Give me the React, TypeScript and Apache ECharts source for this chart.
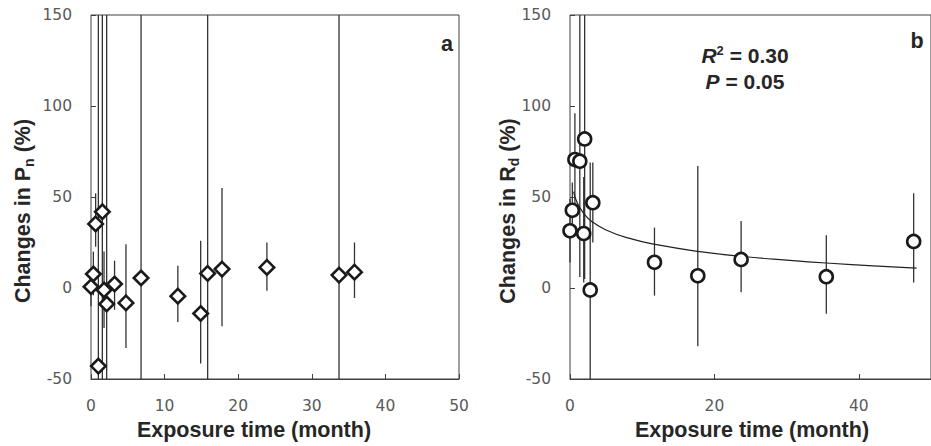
import React, { useEffect, useRef } from 'react';
import * as echarts from 'echarts';

// Panel a: changes in Pn (%)
const pnX = [0, 0.32, 0.63, 1.0, 1.54, 1.77, 2.13, 3.2, 4.75, 6.8, 11.8, 14.9, 15.85, 17.8, 23.9, 33.7, 35.8];
const pnY = [0.7, 7.7, 35.2, -42.9, 41.9, -1.1, -8.8, 2.2, -8.2, 5.5, -4.5, -14, 8, 10.4, 11.3, 7.1, 8.7];
const pnLow = [-10, -4, 22.7, -250, -250, -22, -250, -12, -33, -250, -18.7, -41.5, -250, -21, -1.5, -250, -5.5];
const pnHigh = [10, 20, 52, 250, 250, 20, 250, 15, 24, 250, 12.2, 26, 250, 55, 25, 250, 25];

// Panel b: changes in Rd (%)
const rdX = [0, 0.32, 0.68, 1.36, 1.9, 2.03, 2.8, 3.16, 11.7, 17.7, 23.7, 35.5, 47.6];
const rdY = [31.4, 42.7, 70.6, 69.7, 29.9, 81.9, -1.1, 46.9, 14.1, 6.7, 15.7, 6.2, 25.6];
const rdLow = [14, 28, 45, 6, 3, 5, -60, 25, -4.2, -32, -2.4, -14.2, 3];
const rdHigh = [49, 58, 96, 250, 61, 250, 69, 69, 33.2, 67, 36.8, 29, 52];

// Fitted curve in panel b
const fitX = [0.5, 1, 2, 3, 5, 8, 12, 18, 24, 30, 36, 42, 48];
const fitY = [53, 46.8, 40.4, 36.6, 31.9, 27.5, 23.8, 20.0, 17.3, 15.3, 13.6, 12.2, 10.9];

// Axis ticks
const yMin = -50;
const yMax = 150;
const yStep = 50;
const xMax = 50;
const xStepA = 10;
const xStepB = 20;

const TICK_FONT = 'DejaVu Sans';
const TITLE_FONT = 'Liberation Sans';
const LABEL_COLOR = '#595959';
const LINE_COLOR = '#404040';
const TITLE_COLOR = '#262626';

function errRender(params: any, api: any) {
  const x = api.value(0);
  const lo = api.value(1);
  const hi = api.value(2);
  const p1 = api.coord([x, lo]);
  const p2 = api.coord([x, hi]);
  const cs = params.coordSys;
  const top = cs.y;
  const bot = cs.y + cs.height;
  const c = (v: number) => Math.min(Math.max(v, top), bot);
  return {
    type: 'line',
    shape: { x1: p1[0], y1: c(p1[1]), x2: p2[0], y2: c(p2[1]) },
    style: { stroke: '#333333', lineWidth: 1.3 },
  };
}

export default function App() {
  const ref = useRef<HTMLDivElement>(null);
  useEffect(() => {
    if (!ref.current) return;
    const chart = echarts.init(ref.current, undefined, { renderer: 'svg' });

    const tickLabel = { fontFamily: TICK_FONT, fontSize: 15.5, color: LABEL_COLOR };
    const mkXLabelAxis = (gi: number, step: number) => ({
      type: 'value', gridIndex: gi, min: 0, max: xMax, interval: step, position: 'bottom',
      axisLine: { show: false }, axisTick: { show: false }, splitLine: { show: false },
      axisLabel: { ...tickLabel, margin: 19, showMaxLabel: gi === 0 },
    });
    const mkXZeroAxis = (gi: number, step: number) => ({
      type: 'value', gridIndex: gi, min: 0, max: xMax, interval: step, position: 'bottom',
      axisLine: { show: true, onZero: true, lineStyle: { color: LINE_COLOR, width: 1 } },
      axisTick: { show: true, inside: true, length: 5, lineStyle: { color: LINE_COLOR } },
      axisLabel: { show: false }, splitLine: { show: false },
    });
    const mkY = (gi: number) => ({
      type: 'value', gridIndex: gi, min: yMin, max: yMax, interval: yStep,
      axisLine: { show: false },
      axisTick: { show: true, inside: true, length: 5, lineStyle: { color: LINE_COLOR } },
      axisLabel: { ...tickLabel, margin: 19 },
      splitLine: { show: false },
    });

    const title = (text: string, x: number, y: number) => ({
      type: 'text', x, y,
      style: {
        text, fontFamily: TITLE_FONT, fontWeight: 'bold', fontSize: 21.5, fill: TITLE_COLOR,
        align: 'center', verticalAlign: 'middle',
      },
    });
    const yTitle = (sym: string, sub: string, x: number, y: number) => ({
      type: 'text', x, y, rotation: Math.PI / 2,
      style: {
        text: `{a|Changes in ${sym}}{s|${sub}}{a| (%)}`,
        align: 'center', verticalAlign: 'middle', fill: TITLE_COLOR,
        rich: {
          a: { fontFamily: TITLE_FONT, fontWeight: 'bold', fontSize: 21.5, fill: TITLE_COLOR, lineHeight: 26 },
          s: { fontFamily: TITLE_FONT, fontWeight: 'bold', fontSize: 14, fill: TITLE_COLOR, verticalAlign: 'bottom', lineHeight: 14 },
        },
      },
    });
    const statText = (sym: string, sup: string, rest: string, x: number, y: number) => ({
      type: 'text', x, y,
      style: {
        text: `{i|${sym}}{p|${sup}}{n|${rest}}`,
        align: 'center', verticalAlign: 'middle', fill: TITLE_COLOR,
        rich: {
          i: { fontFamily: TITLE_FONT, fontWeight: 'bold', fontStyle: 'italic', fontSize: 21, fill: TITLE_COLOR, lineHeight: 22 },
          p: { fontFamily: TITLE_FONT, fontWeight: 'bold', fontSize: 13, fill: TITLE_COLOR, verticalAlign: 'top', lineHeight: 13 },
          n: { fontFamily: TITLE_FONT, fontWeight: 'bold', fontSize: 21, fill: TITLE_COLOR, lineHeight: 22 },
        },
      },
    });

    const option: any = {
      animation: false,
      backgroundColor: '#ffffff',
      grid: [
        { left: 91, top: 15, width: 368, height: 364, show: true, borderColor: LINE_COLOR, borderWidth: 1, backgroundColor: 'transparent' },
        { left: 570, top: 15, width: 369, height: 364, show: true, borderColor: LINE_COLOR, borderWidth: 1, backgroundColor: 'transparent' },
      ],
      xAxis: [mkXLabelAxis(0, xStepA), mkXZeroAxis(0, xStepA), mkXLabelAxis(1, xStepB), mkXZeroAxis(1, xStepB)],
      yAxis: [mkY(0), mkY(1)],
      series: [
        {
          type: 'custom', xAxisIndex: 0, yAxisIndex: 0, renderItem: errRender,
          encode: { x: 0, y: [1, 2] }, z: 1,
          data: pnX.map((x, i) => [x, pnLow[i], pnHigh[i]]),
        },
        {
          type: 'scatter', xAxisIndex: 0, yAxisIndex: 0, symbol: 'diamond', symbolSize: 14.5, z: 3,
          itemStyle: { color: '#ffffff', borderColor: '#1a1a1a', borderWidth: 2.6, opacity: 1 },
          data: pnX.map((x, i) => [x, pnY[i]]),
        },
        {
          type: 'custom', xAxisIndex: 2, yAxisIndex: 1, renderItem: errRender,
          encode: { x: 0, y: [1, 2] }, z: 1,
          data: rdX.map((x, i) => [x, rdLow[i], rdHigh[i]]),
        },
        {
          type: 'line', xAxisIndex: 2, yAxisIndex: 1, smooth: true, showSymbol: false, z: 2,
          lineStyle: { color: '#222222', width: 1.2 },
          data: fitX.map((x, i) => [x, fitY[i]]),
        },
        {
          type: 'scatter', xAxisIndex: 2, yAxisIndex: 1, symbol: 'circle', symbolSize: 13, z: 3,
          itemStyle: { color: '#ffffff', borderColor: '#1a1a1a', borderWidth: 2.6, opacity: 1 },
          data: rdX.map((x, i) => [x, rdY[i]]),
        },
      ],
      graphic: [
        title('Exposure time (month)', 254, 430),
        title('Exposure time (month)', 752, 430),
        yTitle('P', 'n', 23, 211),
        yTitle('R', 'd', 508, 211),
        title('a', 447, 44),
        title('b', 917, 41),
        statText('R', '2', ' = 0.30', 745, 55),
        statText('P', '', ' = 0.05', 745, 81),
      ],
    };
    chart.setOption(option);
    return () => chart.dispose();
  }, []);
  return (
    <div
      ref={ref}
      style={{ position: 'fixed', left: 0, top: 0, width: 931, height: 446, background: '#fff' }}
    />
  );
}
